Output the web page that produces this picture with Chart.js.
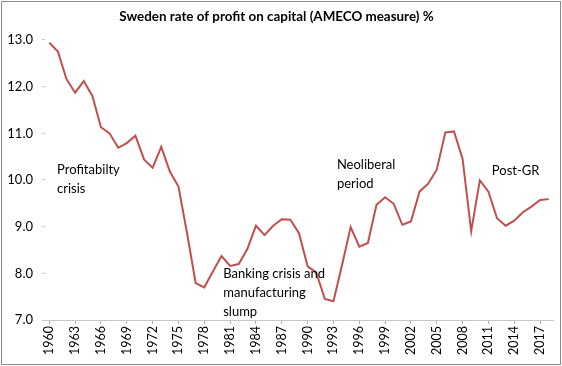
<!DOCTYPE html>
<html>
<head>
<meta charset="utf-8">
<script src="https://cdn.jsdelivr.net/npm/chart.js@4/dist/chart.umd.min.js"></script>
<style>
  html, body { margin: 0; padding: 0; background: #fff; }
  #wrap { width: 562px; height: 366px; }
</style>
</head>
<body>
<div id="wrap"><canvas id="profitChart" width="562" height="366"></canvas></div>
<script>
// Sweden, rate of profit on capital (AMECO), %
const years = [];
for (let y = 1960; y <= 2018; y++) years.push(String(y));

const profitRate = [
    12.94, 12.75, 12.16, 11.87, 12.12, 11.80, 11.13, 11.00, 10.69, 10.79,
    10.95, 10.44, 10.26, 10.71, 10.18, 9.86, 8.86, 7.79, 7.70, 8.04,
    8.37, 8.16, 8.20, 8.52, 9.02, 8.82, 9.02, 9.16, 9.15, 8.86,
    8.15, 8.02, 7.45, 7.40, 8.18, 8.99, 8.57, 8.65, 9.47, 9.63,
    9.49, 9.04, 9.11, 9.75, 9.92, 10.22, 11.02, 11.04, 10.45, 8.90,
    9.99, 9.75, 9.18, 9.02, 9.13, 9.31, 9.43, 9.57, 9.59
];

const yTicks = [7, 8, 9, 10, 11, 12, 13];

// period notes, anchored in data units (year, value)
const noteLines = [
    ["Profitabilty", "crisis"],
    ["Banking crisis and", "manufacturing", "slump"],
    ["Neoliberal", "period"],
    ["Post-GR"]
];
const noteYears = [1960.9, 1980.2, 1993.4, 2011.4];
const noteValues = [10.22, 7.99, 10.32, 10.19];

const fontFamily = "Lato, 'Open Sans', sans-serif";

const notesPlugin = {
    id: 'notes',
    afterDatasetsDraw(chart) {
        const ctx = chart.ctx;
        const xs = chart.scales.x;
        const ys = chart.scales.y;
        ctx.save();
        ctx.fillStyle = '#000';
        ctx.font = "13px " + fontFamily;
        ctx.textAlign = 'left';
        ctx.textBaseline = 'middle';
        noteLines.forEach((lines, i) => {
            const px = xs.getPixelForValue(noteYears[i] - 1960);
            const py = ys.getPixelForValue(noteValues[i]);
            lines.forEach((t, j) => ctx.fillText(t, px, py + j * 19));
        });
        ctx.restore();
    },
    afterDraw(chart) {
        // picture frame
        const ctx = chart.ctx;
        ctx.save();
        ctx.strokeStyle = '#8a8a8a';
        ctx.lineWidth = 1;
        ctx.strokeRect(1.5, 1.5, chart.width - 3, chart.height - 3);
        ctx.restore();
    }
};

const bgPlugin = {
    id: 'bg',
    beforeDraw(chart) {
        const ctx = chart.ctx;
        ctx.save();
        ctx.fillStyle = '#fff';
        ctx.fillRect(0, 0, chart.width, chart.height);
        ctx.restore();
    }
};

new Chart(document.getElementById('profitChart').getContext('2d'), {
    type: 'line',
    data: {
        labels: years,
        datasets: [{
            label: 'Rate of profit',
            data: profitRate,
            borderColor: '#c0504d',
            borderWidth: 2,
            pointRadius: 0,
            tension: 0,
            fill: false
        }]
    },
    options: {
        responsive: false,
        animation: false,
        layout: { padding: { left: 0, right: 9, top: 0, bottom: 0 } },
        plugins: {
            legend: { display: false },
            tooltip: { enabled: false },
            title: {
                display: true,
                text: 'Sweden rate of profit on capital (AMECO measure) %',
                color: '#000',
                font: { family: fontFamily, size: 13.4, weight: 'bold', lineHeight: 1.2 },
                padding: { top: 9, bottom: 14.9 }
            }
        },
        scales: {
            x: {
                offset: true,
                border: { display: true, color: '#c8c8c8', dash: [1, 3], width: 1 },
                grid: { display: true, drawOnChartArea: false, tickLength: 4, color: '#b0b0b0', offset: false },
                ticks: {
                    autoSkip: false,
                    minRotation: 90,
                    maxRotation: 90,
                    padding: 2,
                    color: '#000',
                    font: { family: fontFamily, size: 12.5 },
                    callback: function (v, i) {
                        return i % 3 === 0 ? years[i] : null;
                    }
                },
                afterFit: s => { s.height = 46; }
            },
            y: {
                min: 7,
                max: 13,
                border: { display: false },
                grid: { display: true, drawOnChartArea: false, tickLength: 3, color: '#c8c8c8' },
                afterBuildTicks: s => { s.ticks = yTicks.map(v => ({ value: v })); },
                ticks: {
                    padding: 9,
                    color: '#000',
                    font: { family: fontFamily, size: 13 },
                    callback: v => Number(v).toFixed(1)
                },
                afterFit: s => { s.width = 45; }
            }
        }
    },
    plugins: [bgPlugin, notesPlugin]
});
</script>
</body>
</html>
